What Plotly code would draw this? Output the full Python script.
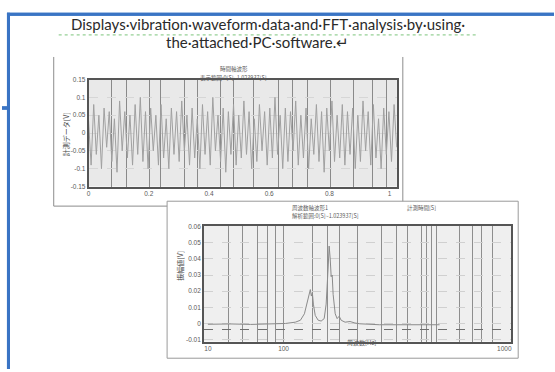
import plotly.graph_objects as go

# ---------------- data ----------------
# time-domain waveform (chart 1), sampled values read from the picture
wave_dt = 0.0086
wave_values = [
    0.035, -0.09, 0.08, -0.06, 0.05, -0.10, 0.07, -0.04, 0.06, -0.08,
    0.04, -0.11, 0.09, -0.05, 0.06, -0.07, 0.05, -0.09, 0.08, -0.06,
    0.10, -0.08, 0.06, -0.10, 0.07, -0.05, 0.05, -0.09, 0.08, -0.07,
    0.04, -0.10, 0.07, -0.06, 0.06, -0.08, 0.09, -0.05, 0.05, -0.09,
    0.07, -0.07, 0.04, -0.10, 0.08, -0.06, 0.06, -0.09, 0.10, -0.05,
    0.05, -0.08, 0.07, -0.11, 0.06, -0.06, 0.08, -0.09, 0.05, -0.07,
    0.09, -0.06, 0.06, -0.10, 0.04, -0.08, 0.08, -0.05, 0.06, -0.09,
    0.07, -0.07, 0.10, -0.06, 0.05, -0.10, 0.07, -0.08, 0.06, -0.05,
    0.09, -0.09, 0.05, -0.07, 0.07, -0.10, 0.04, -0.06, 0.08, -0.08,
    0.06, -0.11, 0.07, -0.05, 0.09, -0.08, 0.05, -0.07, 0.08, -0.09,
    0.06, -0.06, 0.07, -0.10, 0.05, -0.08, 0.09, -0.05, 0.06, -0.09,
    0.08, -0.07, 0.04, -0.10, 0.07, -0.06, 0.06, -0.08, 0.08, -0.04,
]
wave_time = [i * wave_dt for i in range(len(wave_values))]

# FFT spectrum (chart 2)
fft_freq = [10, 14.3, 19.4, 26.4, 33.4, 38.9, 42.1, 44.8, 46.9, 48.4, 49.1, 49.9,
            50.7, 51.5, 53.0, 55.5, 58.1, 60.9, 62.8, 64.8, 65.8, 66.9, 67.9, 69.0,
            70.0, 72.3, 74.5, 76.9, 79.3, 84.3, 91.0, 98.2, 106, 144, 197, 268, 366]
fft_amp = [-0.0005, -0.0003, -0.0006, -0.0004, 0.0, 0.0008, 0.002, 0.006, 0.014, 0.020, 0.021, 0.017,
           0.019, 0.012, 0.005, 0.002, 0.0015, 0.003, 0.012, 0.035, 0.048, 0.040, 0.029, 0.030,
           0.018, 0.006, 0.003, 0.0045, 0.002, 0.0008, 0.0012, 0.0003, -0.0002, -0.0008, -0.0008, -0.0008, -0.0008]

wave_yticks = [0.15, 0.1, 0.05, 0, -0.05, -0.1, -0.15]
wave_ytext = ["0.15", "0.1", "0.05", "0", "-0.05", "-0.1", "-0.15"]
wave_xticks = [0, 0.2, 0.4, 0.6, 0.8, 1]
wave_xtext = ["0", "0.2", "0.4", "0.6", "0.8", "1"]
fft_yticks = [0.06, 0.05, 0.04, 0.03, 0.02, 0.01, 0, -0.01]
fft_ytext = ["0.06", "0.05", "0.04", "0.03", "0.02", "0.01", "0", "-0.01"]
fft_xtext = ["10", "100", "1000"]

heading1 = "Displays·vibration·waveform·data·and·FFT·analysis·by·using·"
heading2 = "the·attached·PC·software.↵"

# ---------------- layout helpers ----------------
W, H = 555, 372
def px(x):
    return x / W
def py(y):
    return 1 - y / H

JP = "Noto Sans CJK JP"
TXT = "#5a5a5a"
blue = "#3a74c4"

fig = go.Figure()

# page frame drawn on a full-page pixel overlay axis (decoration)
fig.add_trace(go.Scatter(x=[0, 6.5, 6.5, 555, None, 6.5, 6.5], y=[106, 106, 10.5, 10.5, None, 106, 372],
                         mode="lines", line=dict(color=blue, width=3),
                         xaxis="x3", yaxis="y3", showlegend=False, hoverinfo="skip", connectgaps=False))

fig.add_trace(go.Scatter(x=wave_time, y=wave_values, mode="lines",
                         line=dict(color="#a0a0a0", width=1),
                         xaxis="x", yaxis="y", showlegend=False, hoverinfo="skip"))
fig.add_trace(go.Scatter(x=fft_freq, y=fft_amp, mode="lines",
                         line=dict(color="#8a8a8a", width=1),
                         xaxis="x2", yaxis="y2", showlegend=False, hoverinfo="skip"))

shapes = []
# blue document frame (also as shapes)
shapes.append(dict(type="line", xref="paper", yref="paper", x0=px(6.5), x1=px(6.5), y0=0.0, y1=py(9),
                   line=dict(color=blue, width=3)))
shapes.append(dict(type="line", xref="paper", yref="paper", x0=px(5), x1=1.0, y0=py(10.5), y1=py(10.5),
                   line=dict(color=blue, width=3)))
shapes.append(dict(type="line", xref="paper", yref="paper", x0=0.0, x1=px(6.5), y0=py(106), y1=py(106),
                   line=dict(color=blue, width=3.5)))
# green wavy (spell-check) underline
shapes.append(dict(type="line", xref="paper", yref="paper", x0=px(57), x1=px(478), y0=py(31.5), y1=py(31.5),
                   line=dict(color="#7cc47c", width=1, dash="dot"), layer="below"))
# chart 1 outer frame
for (a, b, c, d) in [(52, 54, 52, 206), (403, 54, 403, 206), (52, 206, 403, 206)]:
    shapes.append(dict(type="line", xref="paper", yref="paper", x0=px(a), y0=py(b), x1=px(c), y1=py(d),
                       line=dict(color="#8c8c8c", width=1), layer="below"))
# chart 1 plot background
shapes.append(dict(type="rect", xref="paper", yref="paper", x0=px(87), x1=px(397), y0=py(186), y1=py(77),
                   fillcolor="#e9e9e9", line=dict(width=0), layer="below"))
# chart 2 outer frame (white card over chart 1)
shapes.append(dict(type="rect", xref="paper", yref="paper", x0=px(166), x1=px(519), y0=py(361), y1=py(201),
                   fillcolor="white", line=dict(color="#9a9a9a", width=1), layer="below"))
shapes.append(dict(type="rect", xref="paper", yref="paper", x0=px(203), x1=px(512), y0=py(344), y1=py(226),
                   fillcolor="#efefef", line=dict(width=0), layer="below"))

ann = []
hfont = dict(family="Lato", size=15, color="#2a2a2a")
ann.append(dict(text=heading1, x=px(267), y=py(20.5), xref="paper", yref="paper", showarrow=False,
                font=hfont, xanchor="center", yanchor="middle"))
ann.append(dict(text=heading2, x=px(257), y=py(38.5), xref="paper", yref="paper", showarrow=False,
                font=hfont, xanchor="center", yanchor="middle"))
# chart 1 texts
ann.append(dict(text="時間軸波形", x=px(233), y=py(60.5), xref="paper", yref="paper", showarrow=False,
                font=dict(family=JP, size=5.5, color=TXT)))
ann.append(dict(text="表示範囲:0[S]~1.023937[S]", x=px(233), y=py(69), xref="paper", yref="paper", showarrow=False,
                font=dict(family=JP, size=5.5, color=TXT)))
ann.append(dict(text="計測データ[V]", x=px(58), y=py(133), xref="paper", yref="paper", showarrow=False,
                textangle=-90, font=dict(family=JP, size=7, color="#444")))
# chart 2 texts
ann.append(dict(text="周波数軸波形1", x=px(290), y=py(208), xref="paper", yref="paper", showarrow=False,
                xanchor="left", font=dict(family=JP, size=5.5, color=TXT)))
ann.append(dict(text="解析範囲:0[S]~1.023937[S]", x=px(290), y=py(216.5), xref="paper", yref="paper", showarrow=False,
                xanchor="left", font=dict(family=JP, size=5.5, color=TXT)))
ann.append(dict(text="計測時間[S]", x=px(405), y=py(208), xref="paper", yref="paper", showarrow=False,
                xanchor="left", font=dict(family=JP, size=5.5, color=TXT)))
ann.append(dict(text="振幅値[V]", x=px(172), y=py(284), xref="paper", yref="paper", showarrow=False,
                textangle=-90, font=dict(family=JP, size=7, color="#444")))
ann.append(dict(text="周波数[Hz]", x=px(361), y=py(352), xref="paper", yref="paper", showarrow=False,
                font=dict(family=JP, size=6, color=TXT)))

tickfont = dict(family="Liberation Sans", size=6.5, color=TXT)

fig.update_layout(
    width=W, height=H, margin=dict(l=0, r=0, t=0, b=0),
    paper_bgcolor="white", plot_bgcolor="rgba(0,0,0,0)",
    shapes=shapes, annotations=ann,
    xaxis=dict(domain=[px(87), px(397)], range=[0, 1.024], anchor="y",
               tickvals=wave_xticks, ticktext=wave_xtext, tickfont=tickfont, ticks="",
               showgrid=False, zeroline=False,
               showline=True, mirror=True, linecolor="#555", linewidth=1.5,
               minor=dict(tickvals=[0.076, 0.125, 0.202, 0.239, 0.318, 0.362, 0.437, 0.483, 0.549,
                                    0.631, 0.679, 0.727, 0.802, 0.879, 0.943, 0.989],
                          showgrid=True, gridcolor="#8a8a8a", gridwidth=1, ticks="")),
    yaxis=dict(domain=[py(186), py(77)], range=[-0.15, 0.15], anchor="x",
               tickvals=wave_yticks, ticktext=wave_ytext, tickfont=tickfont, ticks="",
               showgrid=True, gridcolor="#d6d6d6", griddash="dash", zeroline=False,
               showline=True, mirror=True, linecolor="#555", linewidth=1.5),
    xaxis2=dict(domain=[px(203), px(512)], type="log", range=[0.973, 3.047], anchor="y2",
                tickvals=[10, 32.4, 1000], ticktext=fft_xtext, tickfont=tickfont, ticks="",
                showgrid=False, zeroline=False,
                showline=True, mirror=True, linecolor="#555", linewidth=1.5,
                minor=dict(tickvals=[13.8, 17.2, 21.7, 25.3, 28.6, 32.4, 50.7, 63.9, 76.9, 103, 149,
                                     188, 223, 277, 300, 324, 350, 499, 610, 701, 830],
                           showgrid=True, gridcolor="#8e8e8e", gridwidth=1, ticks="")),
    yaxis2=dict(domain=[py(344), py(226)], range=[-0.0112, 0.0606], anchor="x2",
                tickvals=fft_yticks, ticktext=fft_ytext, tickfont=tickfont, ticks="",
                showgrid=True, gridcolor="#d0d0d0", griddash="dash", zeroline=False,
                showline=True, mirror=True, linecolor="#555", linewidth=1.5,
                minor=dict(tickvals=[0.04, -0.004], showgrid=True, gridcolor="#6e6e6e",
                           gridwidth=1.2, ticks="")),
    xaxis3=dict(domain=[0, 1], range=[0, 555], anchor="y3", visible=False, fixedrange=True),
    yaxis3=dict(domain=[0, 1], range=[372, 0], anchor="x3", visible=False, fixedrange=True),
)

fig.write_html("out.html", config={"displayModeBar": False},
               post_script="document.body.style.margin='0';document.body.style.overflow='hidden';")
